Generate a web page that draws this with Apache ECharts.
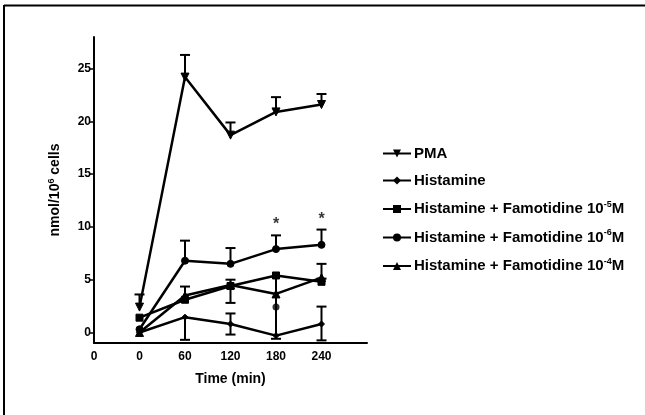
<!DOCTYPE html>
<html>
<head>
<meta charset="utf-8">
<script src="https://cdn.jsdelivr.net/npm/echarts@6/dist/echarts.min.js"></script>
<style>html,body{margin:0;padding:0;background:#fff}#c{width:645px;height:415px}</style>
</head>
<body>
<div id="c"></div>
<script>
// ---- data ----
var times = [0, 60, 120, 180, 240];
var pma = [2.4, 24.2, 18.7, 20.9, 21.6];
var histamine = [0.0, 1.45, 0.8, -0.3, 0.8];
var famo5 = [1.4, 3.1, 4.4, 5.4, 4.8];
var famo6 = [0.3, 6.8, 6.5, 7.9, 8.3];
var famo4 = [0.0, 3.5, 4.5, 3.65, 5.2];
// error bars: [time, low, high]
var pmaErr = [[0, 2.4, 3.6], [60, 24.2, 26.3], [120, 18.7, 19.9], [180, 20.9, 22.3], [240, 21.6, 22.6]];
var famo6Err = [[60, 6.8, 8.7], [120, 6.5, 8.0], [180, 7.9, 9.2], [240, 8.3, 9.75]];
var histErr = [[60, -0.7, 1.45], [120, -0.2, 1.8], [240, -0.75, 2.45]];
var famo5Err = [[60, 3.1, 4.35], [180, -0.6, 5.4]];
var famo4Err = [[120, 2.8, 5.0], [240, 5.1, 6.5]];
var strayPoint = [[180, 2.4]];
var significance = [[180, 10.2], [240, 10.7]];
var yTicks = [0, 5, 10, 15, 20, 25];
var xTicks = [-60, 0, 60, 120, 180, 240];
var names = ['PMA', 'Histamine', 'Histamine + Famotidine 10-5M', 'Histamine + Famotidine 10-6M', 'Histamine + Famotidine 10-4M'];
var legendRich = {
  'PMA': '{a|PMA}',
  'Histamine': '{a|Histamine}',
  'Histamine + Famotidine 10-5M': '{a|Histamine + Famotidine 10}{s|-5}{a|M}',
  'Histamine + Famotidine 10-6M': '{a|Histamine + Famotidine 10}{s|-6}{a|M}',
  'Histamine + Famotidine 10-4M': '{a|Histamine + Famotidine 10}{s|-4}{a|M}'
};

function pairs(vals) { return times.map(function (t, i) { return [t, vals[i]]; }); }

var FONT = '"Liberation Sans", Arial, sans-serif';

function errSeries(data, vals) {
  return {
    type: 'custom',
    silent: true,
    z: 3,
    data: data,
    encode: { x: 0, y: [1, 2] },
    renderItem: function (params, api) {
      var x = api.value(0), lo = api.value(1), hi = api.value(2);
      var v = vals[times.indexOf(x)];
      var pLo = api.coord([x, lo]), pHi = api.coord([x, hi]);
      var w = 5;
      var st = { stroke: '#000', lineWidth: 2 };
      var ch = [{ type: 'line', shape: { x1: pLo[0], y1: pLo[1], x2: pHi[0], y2: pHi[1] }, style: st }];
      if (hi > v + 0.05) ch.push({ type: 'line', shape: { x1: pHi[0] - w, y1: pHi[1], x2: pHi[0] + w, y2: pHi[1] }, style: st });
      if (lo < v - 0.05) ch.push({ type: 'line', shape: { x1: pLo[0] - w, y1: pLo[1], x2: pLo[0] + w, y2: pLo[1] }, style: st });
      return { type: 'group', children: ch };
    }
  };
}

function lineSeries(name, vals, symbol, size, rotate) {
  return {
    name: name, type: 'line', data: pairs(vals),
    symbol: symbol, symbolSize: size, symbolRotate: rotate || 0,
    showAllSymbol: true,
    lineStyle: { color: '#000', width: 2.5 },
    itemStyle: { color: '#000', borderColor: '#000' },
    z: 4
  };
}

var chart = echarts.init(document.getElementById('c'), null, { renderer: 'canvas' });
chart.setOption({
  backgroundColor: '#fff',
  animation: false,
  textStyle: { fontFamily: FONT },
  grid: { left: 94, right: 278, top: 37, bottom: 72, containLabel: false },
  xAxis: {
    type: 'value', min: -60, max: 300,
    name: 'Time (min)', nameLocation: 'middle', nameGap: 29,
    nameTextStyle: { color: '#000', fontWeight: 'bold', fontSize: 14, fontFamily: FONT },
    axisLine: { show: true, onZero: false, lineStyle: { color: '#000', width: 2 } },
    axisTick: { show: false },
    splitLine: { show: false },
    axisLabel: {
      customValues: xTicks, color: '#000', fontWeight: 'bold', fontSize: 12, fontFamily: FONT, margin: 8,
      formatter: function (v) { return v === -60 ? '0' : String(v); }
    }
  },
  yAxis: {
    type: 'value', min: -1, max: 28,
    name: '{a|nmol/10}{s|6}{a| cells}', nameLocation: 'middle', nameGap: 30,
    nameTextStyle: {
      color: '#000', fontWeight: 'bold', fontSize: 14, fontFamily: FONT,
      rich: {
        a: { color: '#000', fontWeight: 'bold', fontSize: 14, fontFamily: FONT },
        s: { color: '#000', fontWeight: 'bold', fontSize: 9, fontFamily: FONT, padding: [0, 0, 8, 0] }
      }
    },
    axisLine: { show: true, onZero: false, lineStyle: { color: '#000', width: 2 } },
    axisTick: { show: true, customValues: yTicks, length: 5, lineStyle: { color: '#000', width: 1.5 } },
    splitLine: { show: false },
    axisLabel: { customValues: yTicks, color: '#000', fontWeight: 'bold', fontSize: 12, fontFamily: FONT, margin: 3 }
  },
  legend: {
    orient: 'vertical', left: 377, top: 141, itemGap: 12, itemWidth: 28, itemHeight: 10,
    data: names,
    formatter: function (n) { return legendRich[n]; },
    textStyle: {
      color: '#000', fontWeight: 'bold', fontSize: 15, fontFamily: FONT, padding: [0, 0, 0, -2],
      rich: {
        a: { color: '#000', fontWeight: 'bold', fontSize: 15, fontFamily: FONT },
        s: { color: '#000', fontWeight: 'bold', fontSize: 9, fontFamily: FONT, padding: [0, 0, 9, 0] }
      }
    }
  },
  graphic: [
    { type: 'line', shape: { x1: 4, y1: 5.5, x2: 645, y2: 5.5 }, style: { stroke: '#000', lineWidth: 2 } },
    { type: 'line', shape: { x1: 4, y1: 5, x2: 4, y2: 415 }, style: { stroke: '#000', lineWidth: 2 } }
  ],
  series: [
    lineSeries(names[0], pma, 'triangle', 8, 180),
    lineSeries(names[1], histamine, 'diamond', 6),
    lineSeries(names[2], famo5, 'rect', 7),
    lineSeries(names[3], famo6, 'circle', 7),
    lineSeries(names[4], famo4, 'triangle', 8),
    errSeries(pmaErr, pma),
    errSeries(famo6Err, famo6),
    errSeries(histErr, histamine),
    errSeries(famo5Err, famo5),
    errSeries(famo4Err, famo4),
    { type: 'scatter', data: strayPoint, symbol: 'circle', symbolSize: 7, itemStyle: { color: '#000' }, z: 4, silent: true },
    {
      type: 'scatter', data: significance, symbolSize: 0, silent: true,
      label: { show: true, position: 'inside', formatter: '*', color: '#000', fontWeight: 'bold', fontSize: 16, fontFamily: FONT }
    }
  ]
});
</script>
</body>
</html>
